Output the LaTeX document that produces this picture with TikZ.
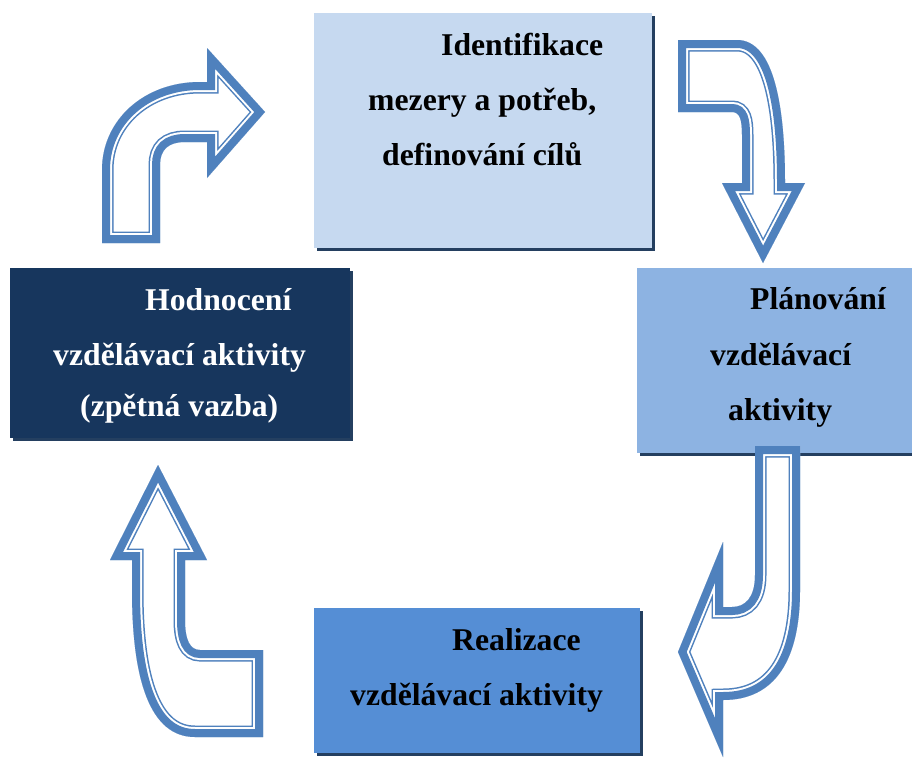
\documentclass[tikz,border=0pt]{standalone}
\usepackage{fontspec}
\setmainfont{Liberation Serif}
\usetikzlibrary{shadows}
\definecolor{boxA}{HTML}{C6D9F0}
\definecolor{boxB}{HTML}{8DB3E2}
\definecolor{boxC}{HTML}{558ED5}
\definecolor{boxD}{HTML}{17365D}
\definecolor{shadowc}{HTML}{243F60}
\definecolor{arrowc}{HTML}{4F81BD}
\tikzset{
  stagebox/.style={anchor=north west, inner sep=0pt, draw=none,
    drop shadow={shadow xshift=3pt, shadow yshift=-3pt, fill=shadowc, opacity=1}},
  label/.style={anchor=base west, inner sep=0pt,
    font=\fontsize{31.7pt}{38pt}\selectfont\bfseries},
}
\newcommand{\blockarrow}[1]{%
  \begin{scope}
    \clip #1;
    \fill[white] #1;
    \draw[arrowc, line width=23pt, line join=miter] #1;
    \draw[white, line width=20pt, line join=miter] #1;
    \draw[arrowc, line width=16pt, line join=miter] #1;
  \end{scope}}
\begin{document}
\begin{tikzpicture}[x=1pt,y=-1pt]
\clip (0,0) rectangle (912,758);
\fill[white] (0,0) rectangle (912,758);

% boxes
\node[stagebox, fill=boxA, minimum width=338pt, minimum height=235pt] (ident) at (314,13) {};
\node[stagebox, fill=boxB, minimum width=276pt, minimum height=185pt] (plan) at (637,268) {};
\node[stagebox, fill=boxC, minimum width=326pt, minimum height=145pt] (real) at (314,608) {};
\node[stagebox, fill=boxD, minimum width=340pt, minimum height=170pt] (hodn) at (10,268) {};

% texts
\node[label] (identA) at (441,55) {Identifikace};
\node[label] (identB) at (368,110) {mezery a potřeb,};
\node[label] (identC) at (382,165) {definování cílů};

\node[label] (planA) at (750,309) {Plánování};
\node[label] (planB) at (710,365) {vzdělávací};
\node[label] (planC) at (728,420) {aktivity};

\node[label] (realA) at (452,650) {Realizace};
\node[label] (realB) at (350,705) {vzdělávací aktivity};

\node[label, text=white] (hodnA) at (145,310) {Hodnocení};
\node[label, text=white] (hodnB) at (53,365) {vzdělávací aktivity};
\node[label, text=white] (hodnC) at (80,416) {(zpětná vazba)};

% block arrows
\blockarrow{(102,243) -- (102,170) .. controls (102,120) and (144,82) .. (200,82) -- (207,82) -- (207,48) -- (265,112) -- (207,178) -- (207,142) -- (185,142) .. controls (168,142) and (160,150) .. (160,165) -- (160,243) -- cycle}
\blockarrow{(678,40) -- (737,40) .. controls (775,40) and (785,110) .. (785,183) -- (805,183) -- (763,263) -- (722,183) -- (742,183) -- (742,135) .. controls (742,120) and (740,112) .. (732,112) -- (678,112) -- cycle}
\blockarrow{(755,446) -- (800,446) -- (800,590) .. controls (800,660) and (775,700) .. (723,700) -- (723,757) -- (678,652) -- (723,542) -- (723,607) -- (732,607) .. controls (745,607) and (755,598) .. (755,575) -- cycle}
\blockarrow{(158,465) -- (207,560) -- (185,560) -- (185,620) .. controls (185,640) and (190,650) .. (200,650) -- (263,650) -- (263,737) -- (195,737) .. controls (150,737) and (132,680) .. (132,590) -- (132,560) -- (110,560) -- cycle}
\end{tikzpicture}
\end{document}
